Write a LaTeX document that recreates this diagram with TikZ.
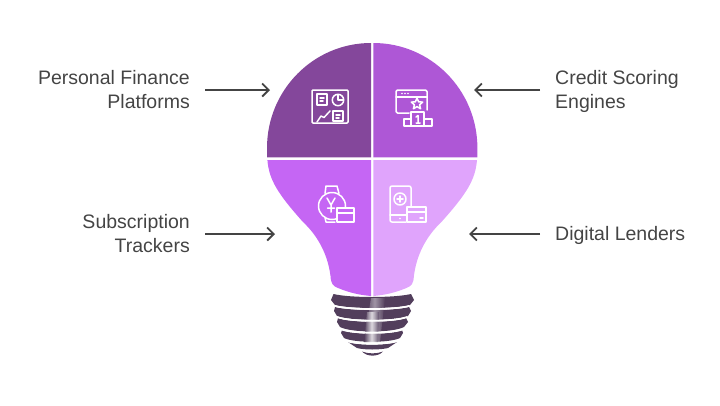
\documentclass[tikz,border=0pt]{standalone}
\usepackage{fontspec}
\setmainfont{Liberation Sans}
\usetikzlibrary{arrows.meta}
\definecolor{quadA}{HTML}{84479B}
\definecolor{quadB}{HTML}{AE57D6}
\definecolor{quadC}{HTML}{C566F4}
\definecolor{quadD}{HTML}{E0A4FC}
\definecolor{baseDark}{HTML}{523E5C}
\definecolor{labelGray}{HTML}{444444}
\tikzset{
  lbl/.style={text=labelGray,font=\fontsize{19.5}{24}\selectfont,inner ysep=0pt,inner xsep=15pt},
  flow/.style={draw=labelGray,line width=1.8pt,-{Straight Barb[length=6.5pt,width=13pt,line width=1.8pt]}},
  ico/.style={draw=white,line width=1.5pt,line join=round,line cap=round},
  gap/.style={draw=white,line width=1.7pt},
}
\newcommand{\lstrut}{\rule[-5.5pt]{0pt}{24pt}}
\newcommand{\lowerquad}{(371,160) -- (267.4,160) .. controls (269,180) and (278,194) .. (303,222)
  .. controls (319,237) and (328,256) .. (330.5,276) .. controls (331,284) and (333,286) .. (338,288)
  .. controls (350,293) and (360,295) .. (371,296) -- cycle}
\newcommand{\upperquad}{(371,43) .. controls (313.6,43) and (267,90) .. (267,148) -- (267,157.4) -- (371,157.4) -- cycle}
\begin{document}
\begin{tikzpicture}[x=1pt,y=-1pt]
    \useasboundingbox (0,0) rectangle (720,405);
    % bulb glass
    \fill[quadA] \upperquad;
    \fill[quadB,xscale=-1,xshift=-744.4] \upperquad;
    \fill[quadC] \lowerquad;
    \fill[quadD,xscale=-1,xshift=-744.4] \lowerquad;
    % screw base
    \fill[baseDark] (333.5,294) .. controls (350,298) and (394,298) .. (411,294) -- (414,300) -- (410,305)
      .. controls (395,309) and (350,309) .. (335,305) -- (331,300) -- cycle;
    \fill[baseDark] (335,307) .. controls (350,311) and (394,311) .. (409,307) -- (411,311) -- (408,316)
      .. controls (395,321) and (350,321) .. (337,316) -- (334,311) -- cycle;
    \fill[baseDark] (338,318) .. controls (350,323) and (394,323) .. (406,318) -- (408,322) -- (404,327)
      .. controls (392,333) and (352,333) .. (340,327) -- (337,322) -- cycle;
    \fill[baseDark] (342,330) .. controls (352,335) and (392,335) .. (402,330) -- (403,333) -- (400,338)
      .. controls (390,343) and (354,343) .. (344,338) -- (341,333) -- cycle;
    \fill[baseDark] (348,342) .. controls (358,345.5) and (386,345.5) .. (397,342) -- (388,348)
      .. controls (380,350) and (364,350) .. (357,348) -- cycle;
    \fill[baseDark] (362,351.5) .. controls (368,354) and (377,354) .. (383,351.5)
      .. controls (378,357) and (367,357) .. (362,351.5) -- cycle;
    % highlight on the base
    \shade[left color=baseDark,right color=baseDark,middle color=white,opacity=0.45]
      (371,298) -- (385,298) -- (380,342) -- (364,342) -- cycle;
    \shade[left color=baseDark,right color=baseDark,middle color=white,opacity=0.7]
      (367,312) -- (379,312) -- (378,342) -- (364,342) -- cycle;
    \draw[gap] (335,306) .. controls (350,310) and (394,310) .. (409,306);
    \draw[gap] (337,317) .. controls (350,322) and (394,322) .. (407,317);
    \draw[gap] (340,329) .. controls (352,334) and (392,334) .. (404,329);
    \draw[gap] (344,340) .. controls (354,345) and (390,345) .. (400,340);
    % labels
    \node[lbl,align=right,anchor=east] (pfp) at (205,90) {\lstrut Personal Finance\\\lstrut Platforms};
    \node[lbl,align=left,anchor=west] (cse) at (540,90) {\lstrut Credit Scoring\\\lstrut Engines};
    \node[lbl,align=right,anchor=east] (subs) at (205,234) {\lstrut Subscription\\\lstrut Trackers};
    \node[lbl,align=left,anchor=west] (dig) at (540,234) {\lstrut Digital Lenders};
    \coordinate (pfpEnd) at (270,90);
    \coordinate (cseEnd) at (474,90);
    \coordinate (subsEnd) at (275,234);
    \coordinate (digEnd) at (469,234);
    \foreach \from/\to in {pfp.east/pfpEnd,cse.west/cseEnd,subs.east/subsEnd,dig.west/digEnd}{
      \draw[flow] (\from) -- (\to);
    }
    % dashboard icon
    \draw[ico,rounded corners=1pt] (312,90) rectangle (348,123);
    \draw[ico] (317,94) rectangle (327,105);
    \draw[ico] (320,98) -- (324,98) (320,101) -- (323,101);
    \draw[ico] (338,100) circle (5.7);
    \draw[ico] (338,95) -- (338,100) -- (343,100);
    \draw[ico] (317,122) -- (321,116) -- (324,117.5) -- (330,111);
    \draw[ico] (333,111) rectangle (343,121);
    \draw[ico] (336,115) -- (340,115) (336,118) -- (339,118);
    % ranking icon
    \draw[ico,rounded corners=1.5pt] (409,113) -- (396,113) -- (396,90) -- (427,90) -- (427,110);
    \draw[ico] (396,97) -- (427,97);
    \foreach \dotx in {402,405,408}{ \fill[white] (\dotx,93.5) circle (0.9); }
    \draw[ico] (417,98) -- (418.6,101.8) -- (422.7,102.1) -- (419.6,104.8) -- (420.6,108.8)
      -- (417,106.6) -- (413.4,108.8) -- (414.4,104.8) -- (411.3,102.1) -- (415.4,101.8) -- cycle;
    \draw[ico] (404,126) -- (404,119) -- (411,119) (424,119) -- (432,119) -- (432,126) -- (404,126);
    \draw[ico] (411,126) -- (411,112) -- (424,112) -- (424,126);
    \draw[ico] (416,117) -- (418,115.5) -- (418,123) (416,123) -- (420,123);
    % watch icon
    \draw[ico] (345.5,206) arc (0:360:13.5);
    \draw[ico] (325,193.5) -- (326,186) -- (337,186) -- (339,193.5);
    \draw[ico] (325,217.5) -- (326,222) -- (335,222);
    \draw[ico] (327,198) -- (331,205) -- (335,198) (331,205) -- (331,212) (327.5,208) -- (334.5,208);
    \draw[ico,fill=quadC] (337,208) rectangle (354,222);
    \draw[ico] (337,213) -- (354,213);
    % phone icon
    \draw[ico,rounded corners=2pt] (406,222) -- (390,222) -- (390,186) -- (411,186) -- (411,206);
    \draw[ico] (390,215) -- (406,215);
    \fill[white] (400,218.5) circle (0.9);
    \draw[ico] (400,199) circle (6);
    \draw[ico] (397,199) -- (403,199) (400,196) -- (400,202);
    \draw[ico,fill=quadD] (407,207) rectangle (426,222);
    \draw[ico] (407,212) -- (426,212) (420,218) -- (423,218);
  \end{tikzpicture}
\end{document}
